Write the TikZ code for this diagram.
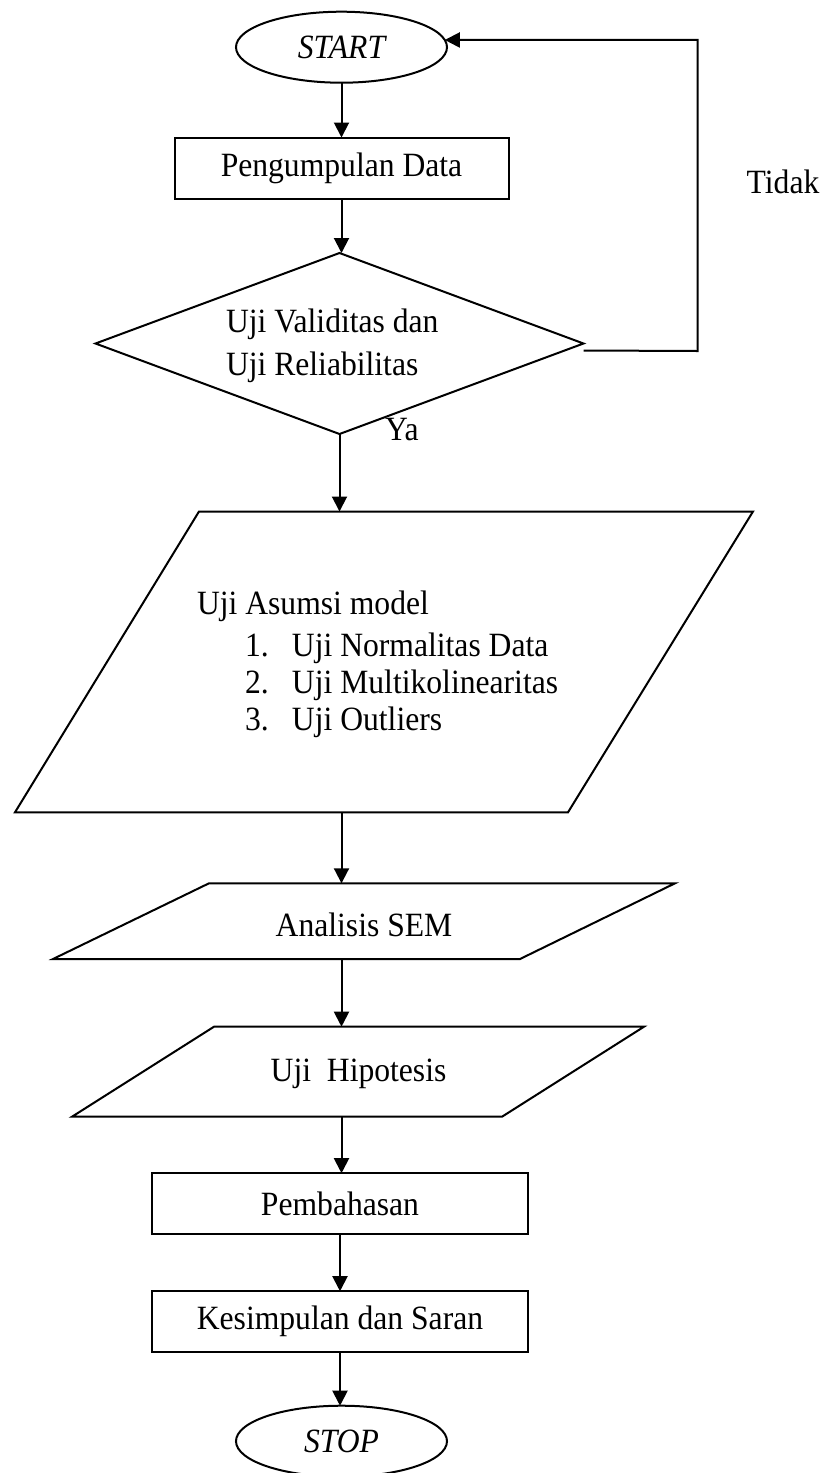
\documentclass[tikz,border=0pt]{standalone}
\usepackage{fontspec}
\setmainfont[FakeStretch=0.93]{Liberation Serif}
\usetikzlibrary{arrows.meta,shapes.geometric}
\begin{document}
\begin{tikzpicture}[x=1pt,y=-1pt,line width=2pt,
  every node/.style={font=\fontsize{34}{40}\selectfont,inner sep=0pt,outer sep=0pt},
  terminal/.style={draw,ellipse,minimum width=211pt,minimum height=71pt,
                   font=\fontsize{34}{40}\selectfont\itshape},
  process/.style={draw,rectangle,minimum height=61pt},
  decision/.style={draw,diamond,minimum width=488pt,minimum height=181pt},
  txt/.style={anchor=base west},
  flow/.style={-{Triangle[length=15pt,width=15pt]}},
]
\path[use as bounding box] (0,0) rectangle (827,1473);

% terminals and process boxes
\node[terminal] (start) at (341.5,47.2) {START};
\node[process,minimum width=334pt] (collect) at (341.5,168) {Pengumpulan Data};
\node[process,minimum width=376pt] (discuss) at (340,1203.7) {Pembahasan};
\node[process,minimum width=376pt] (conclude) at (340,1321.7) {Kesimpulan dan Saran};
\node[terminal] (stop) at (341.5,1441.2) {STOP};

% decision
\node[decision] (check) at (339.5,343.5) {};
\node[txt] (check1) at (226,332.7) {Uji Validitas dan};
\node[txt] (check2) at (226,375.7) {Uji Reliabilitas};
\node[txt] (yes) at (385,440) {Ya};
\node[txt] (no) at (746.7,193.3) {Tidak};

% assumption tests (input/output shape)
\draw (199,511.5) -- (753,511.5) -- (568,812.3) -- (15,812.3) -- cycle;
\coordinate (asmin) at (341.5,511.5);
\coordinate (asmout) at (341.5,812.3);
\node[txt] (asm0) at (197,614) {Uji Asumsi model};
\node[txt] (asm1) at (245,656.7) {\makebox[47pt][l]{1.}Uji Normalitas Data};
\node[txt] (asm2) at (245,693.3) {\makebox[47pt][l]{2.}Uji Multikolinearitas};
\node[txt] (asm3) at (245,730) {\makebox[47pt][l]{3.}Uji Outliers};

% SEM analysis
\draw (209,883.3) -- (675,883.3) -- (520,959) -- (53,959) -- cycle;
\coordinate (semin) at (341.5,883.3);
\coordinate (semout) at (341.5,959);
\node[txt] (sem) at (275.7,936) {Analisis SEM};

% hypothesis test
\draw (214,1026.7) -- (644,1026.7) -- (502,1116.7) -- (72,1116.7) -- cycle;
\coordinate (hypin) at (341.5,1026.7);
\coordinate (hypout) at (341.5,1116.7);
\node[txt] (hyp) at (270.7,1081.7) {Uji~~Hipotesis};

% connectors
\draw[flow] (start.south) -- (start.south |- collect.north);
\draw[flow] (collect.south) -- (collect.south |- check.north);
\draw[flow] (check.south) -- (check.south |- asmin);
\draw[flow] (asmout) -- (semin);
\draw[flow] (semout) -- (hypin);
\draw[flow] (hypout) -- (hypout |- discuss.north);
\draw[flow] (discuss.south) -- (discuss.south |- conclude.north);
\draw[flow] (conclude.south) -- (conclude.south |- stop.north);
\draw[flow] ([yshift=-7pt]check.east) -- (697.5,351) |- (start.4.3);
\end{tikzpicture}
\end{document}
